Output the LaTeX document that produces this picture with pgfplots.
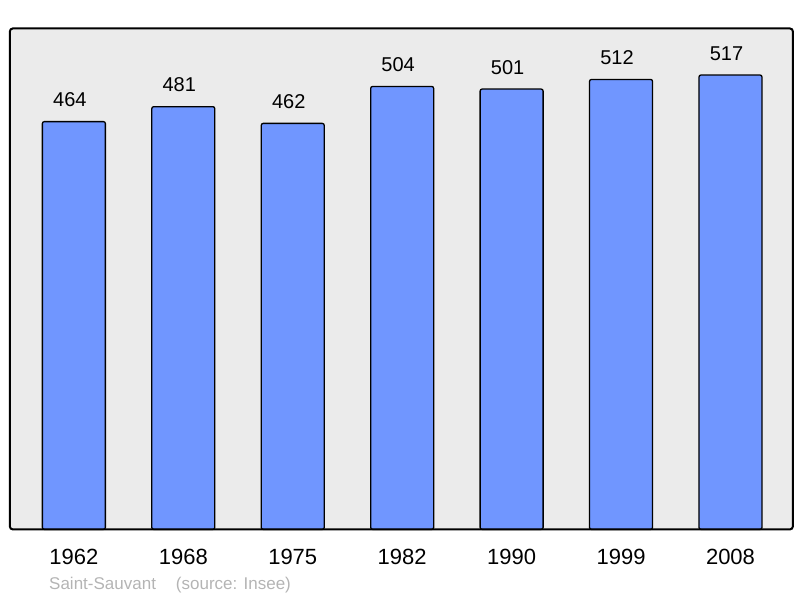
\documentclass[border=0pt]{standalone}
\usepackage{fontspec}
\setmainfont{Liberation Sans}
\usepackage{pgfplots}
\pgfplotsset{compat=1.18}
\definecolor{barblue}{HTML}{7096FF}
\definecolor{bggray}{HTML}{EBEBEB}
\definecolor{srcgray}{HTML}{B4B4B4}

\begin{document}
\begin{tikzpicture}[x=1bp,y=1bp]
\path[use as bounding box] (0,0) rectangle (800,598);
\begin{axis}[
    at={(9,78)}, anchor=south west,
    scale only axis,
    width=783bp, height=501bp,
    xmin=-0.585, xmax=6.57,
    ymin=0, ymax=570,
    axis line style={draw=none},
    axis background/.style={fill=bggray, rounded corners=3bp},
    ytick=\empty,
    xtick=data,
    xticklabels={1962,1968,1975,1982,1990,1999,2008},
    major tick length=0pt,
    xticklabel style={font=\fontsize{22bp}{26bp}\selectfont, anchor=base, yshift=-35bp},
    ybar, bar width=63bp,
    /pgf/number format/assume math mode=true,
    nodes near coords,
    every node near coord/.append style={font=\fontsize{20bp}{24bp}\selectfont,
        anchor=base, yshift=15bp, xshift=-4bp, text=black},
    clip=false,
]
\addplot[fill=barblue, draw=black, line width=1.3bp, rounded corners=2bp]
  coordinates {(0,464) (1,481) (2,462) (3,504) (4,501) (5,512) (6,517)};
\draw[line width=2bp, rounded corners=3bp] (rel axis cs:0,0) rectangle (rel axis cs:1,1);
\end{axis}
\node[anchor=base west, text=srcgray, font=\fontsize{17bp}{20bp}\selectfont, inner sep=0pt]
  at (49,8) {Saint-Sauvant\hspace{20bp}(source: Insee)};
\end{tikzpicture}
\end{document}
